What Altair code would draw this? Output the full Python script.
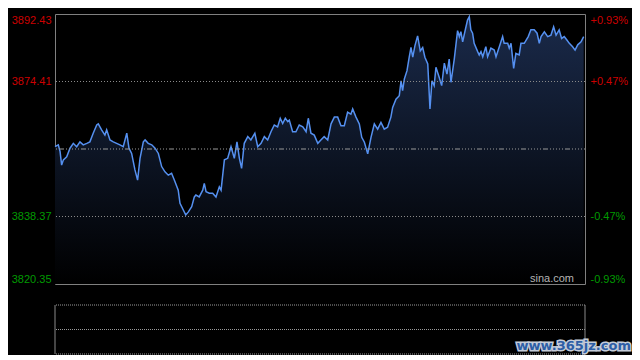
import altair as alt
import pandas as pd

# ---- data (minute of session, index level) ----
minutes = [0, 1.5, 2.3, 3.0, 3.8, 5.3, 6.8, 8.3, 9.8, 11.3, 12.8, 14.4, 15.8, 17.3, 18.9, 19.6,
           21.1, 22.6, 23.4, 24.9, 26.4, 27.9, 29.4, 30.9, 32.5, 33.5, 34.7, 36.2, 37.4, 38.5,
           40.0, 40.8, 42.2, 43.8, 45.3, 46.8, 48.3, 49.8, 51.3, 52.8, 54.3, 55.8, 56.6, 58.1,
           59.2, 60.4, 61.9, 63.1, 63.8, 65.3, 66.9, 67.6, 68.4, 69.9, 71.4, 72.9, 74.4, 75.2,
           76.7, 78.2, 79.7, 81.2, 82.4, 83.5, 84.5, 85.7, 87.3, 88.7, 90.5, 91.8, 93.3, 94.8,
           96.3, 97.8, 99.3, 100.8, 102.0, 103.1, 104.3, 105.4, 106.1, 107.6, 109.1, 110.6,
           112.2, 113.7, 114.7, 115.9, 117.4, 119.0, 120.4, 121.9, 123.5, 125.0, 126.5, 128.0,
           129.5, 131.0, 132.5, 134.0, 134.8, 136.3, 137.8, 138.9, 140.1, 141.6, 143.1, 144.6,
           146.1, 147.6, 149.1, 150.6, 152.1, 152.9, 154.4, 155.9, 156.7, 157.4, 158.2, 159.4,
           160.4, 161.2, 162.0, 163.0, 164.2, 165.4, 166.5, 167.5, 168.8, 169.8, 170.7, 171.7,
           172.5, 174.0, 175.1, 176.3, 177.5, 178.5, 179.3, 180.8, 182.3, 183.1, 183.8, 184.6,
           185.6, 186.8, 187.6, 188.3, 189.1, 189.8, 191.4, 192.1, 192.9, 193.7, 195.1, 195.9,
           197.4, 198.9, 199.7, 201.2, 202.7, 203.4, 205.0, 205.7, 206.5, 207.7, 208.7, 210.2,
           211.0, 212.5, 214.3, 215.5, 217.0, 218.3, 219.3, 220.1, 221.6, 223.1, 224.6, 225.8,
           226.9, 228.3, 229.4, 230.6, 231.8, 232.9, 234.4, 235.5, 236.7, 238.2, 239.4]

prices = [3857.0, 3857.5, 3855.7, 3852.1, 3853.5, 3854.3, 3856.6, 3857.9, 3857.0, 3858.3, 3857.5,
          3857.9, 3858.3, 3860.6, 3862.8, 3863.1, 3861.5, 3860.1, 3861.5, 3858.8, 3858.3, 3857.9,
          3857.5, 3857.0, 3860.6, 3856.6, 3855.2, 3850.8, 3848.1, 3853.9, 3858.3, 3858.8, 3857.9,
          3857.5, 3856.6, 3855.2, 3851.7, 3850.3, 3849.4, 3849.9, 3847.7, 3845.4, 3841.9, 3840.1,
          3838.8, 3839.6, 3841.0, 3843.6, 3844.1, 3843.6, 3845.4, 3847.2, 3845.0, 3844.6, 3844.6,
          3843.6, 3846.3, 3845.4, 3853.5, 3853.9, 3857.0, 3853.9, 3858.3, 3853.9, 3851.2, 3857.9,
          3859.7, 3858.8, 3860.6, 3857.0, 3857.9, 3859.7, 3858.8, 3861.0, 3862.8, 3862.3, 3864.6,
          3863.2, 3864.6, 3863.7, 3864.1, 3861.0, 3861.0, 3862.8, 3862.3, 3861.0, 3864.6, 3860.6,
          3860.1, 3857.9, 3858.8, 3859.7, 3858.8, 3863.1, 3864.9, 3864.9, 3862.6, 3862.6, 3866.2,
          3865.7, 3867.1, 3864.9, 3863.1, 3859.5, 3858.2, 3855.1, 3859.5, 3863.1, 3861.7, 3863.5,
          3861.7, 3862.2, 3864.9, 3867.5, 3869.7, 3870.6, 3874.6, 3872.0, 3875.1, 3877.3, 3880.9,
          3883.5, 3880.9, 3884.0, 3886.6, 3882.6, 3883.5, 3880.9, 3879.1, 3867.1, 3874.6, 3873.3,
          3878.2, 3875.5, 3873.3, 3879.3, 3876.4, 3880.4, 3874.2, 3880.4, 3888.0, 3886.4, 3887.7,
          3885.0, 3887.7, 3890.8, 3891.7, 3888.2, 3887.3, 3884.6, 3882.4, 3881.5, 3882.4, 3881.0,
          3883.7, 3881.0, 3883.3, 3882.8, 3881.0, 3883.7, 3886.4, 3884.6, 3884.6, 3883.3, 3884.6,
          3877.9, 3881.9, 3881.5, 3884.6, 3884.6, 3886.4, 3888.2, 3888.2, 3887.3, 3884.6, 3886.4,
          3887.7, 3886.4, 3886.8, 3889.0, 3886.8, 3888.2, 3885.9, 3886.4, 3885.5, 3884.6, 3883.7,
          3882.8, 3884.2, 3885.0, 3886.4]

prev_close = 3856.39
y_min, y_max = 3820.35, 3892.43
left_ticks = [3892.43, 3874.41, 3838.37, 3820.35]
right_labels = ["+0.93%", "+0.47%", "-0.47%", "-0.93%"]
grid_levels = [3874.41, 3838.37]
session = [0, 240]
lower_levels = [0, 1, 2]
source_text = ["sina.com"]
watermark_text = ["www.365jz.com"]

RED = "#cc0000"
GREEN = "#009a00"
FONT = "Liberation Sans"

df = pd.DataFrame({"t": minutes, "price": prices})

xs = alt.Scale(domain=session, nice=False, zero=False)
ys = alt.Scale(domain=[y_min, y_max], nice=False, zero=False)

label_color = {"condition": {"test": f"datum.value > {prev_close}", "value": RED}, "value": GREEN}

left_axis = alt.Axis(values=left_ticks, format=".2f", title=None, domain=False, ticks=False,
                     tickSize=0, grid=False, labelFlush=True, labelPadding=4, labelFont=FONT,
                     labelFontSize=11, labelColor=label_color, orient="left")

pct_expr = " : ".join(
    f"abs(datum.value - {v}) < 0.005 ? '{lab}'" for v, lab in zip(left_ticks, right_labels)
) + " : ''"
right_axis = alt.Axis(values=left_ticks, labelExpr=pct_expr, title=None, domain=False, ticks=False,
                      tickSize=0, grid=False, labelFlush=True, labelPadding=5, labelFont=FONT,
                      labelFontSize=11, labelColor=label_color, orient="right")

area = alt.Chart(df).mark_area(
    color=alt.Gradient(
        gradient="linear",
        stops=[alt.GradientStop(color="#1a2a4a", offset=0),
               alt.GradientStop(color="#000000", offset=1)],
        x1=0, x2=0, y1=0, y2=1),
).encode(
    x=alt.X("t:Q", scale=xs, axis=None),
    y=alt.Y("price:Q", scale=ys, axis=left_axis),
    y2=alt.datum(y_min),
)

line = alt.Chart(df).mark_line(color="#5590f0", strokeWidth=1.5).encode(
    x=alt.X("t:Q", scale=xs, axis=None),
    y=alt.Y("price:Q", scale=ys, axis=None),
)

grid = alt.Chart(pd.DataFrame({"level": grid_levels})).mark_rule(
    color="#8a8a8a", strokeDash=[1, 2], strokeWidth=1
).encode(y=alt.Y("level:Q", scale=ys, axis=right_axis))

mid = alt.Chart(pd.DataFrame({"level": [prev_close]})).mark_rule(
    color="#9a9a9a", strokeDash=[1, 2, 1, 2, 1, 2, 1, 2, 1, 2, 5, 2], strokeWidth=1
).encode(y=alt.Y("level:Q", scale=ys, axis=None))

src = alt.Chart(pd.DataFrame({"s": source_text})).mark_text(
    align="right", baseline="alphabetic", dx=-11, dy=-2, font=FONT, fontSize=11, color="#b4b4b4"
).encode(
    x=alt.X(datum=session[1], scale=xs, axis=None),
    y=alt.Y(datum=y_min, scale=ys, axis=None),
    text="s:N",
)

top = alt.layer(area, line, mid, src, grid).resolve_scale(y="independent").properties(
    width=530, height=270, view=alt.ViewBackground(stroke="#808080", strokeWidth=1)
)

lower_h = alt.Chart(pd.DataFrame({"level": lower_levels})).mark_rule(
    color="#9a9a9a", strokeDash=[1, 1], strokeWidth=1
).encode(y=alt.Y("level:Q", scale=alt.Scale(domain=[0, 2], nice=False), axis=None))

lower_v = alt.Chart(pd.DataFrame({"t": session})).mark_rule(
    color="#8a8a8a", strokeWidth=1
).encode(x=alt.X("t:Q", scale=xs, axis=None))

wm_df = pd.DataFrame({"w": watermark_text})
wm_back = alt.Chart(wm_df).mark_text(
    align="right", baseline="alphabetic", font="DejaVu Sans", fontWeight="bold", fontSize=13,
    color="#c4ccd8", stroke="#c4ccd8", strokeWidth=3
).encode(x=alt.value(576), y=alt.value(45), text="w:N")
wm_front = alt.Chart(wm_df).mark_text(
    align="right", baseline="alphabetic", font="DejaVu Sans", fontWeight="bold", fontSize=13,
    color="#2d5ea6"
).encode(x=alt.value(576), y=alt.value(45), text="w:N")

lower = alt.layer(lower_h, lower_v, wm_back, wm_front).properties(width=530, height=49)

chart = alt.vconcat(top, lower, spacing=19).properties(
    padding={"left": 2, "top": 5, "right": 0, "bottom": 0},
    background="#000000",
).configure_view(stroke="transparent")

chart.save("out.html", embed_options={"renderer": "svg", "actions": False})
